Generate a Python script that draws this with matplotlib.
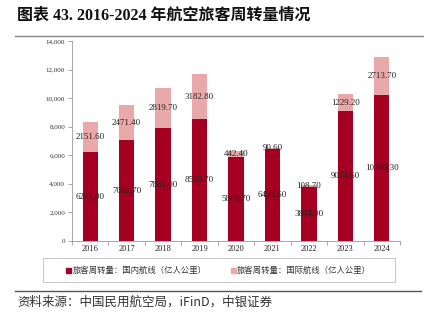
import matplotlib
matplotlib.use("Agg")
import matplotlib.pyplot as plt
from matplotlib.lines import Line2D
from matplotlib.patches import Rectangle
import numpy as np

years = ["2016", "2017", "2018", "2019", "2020", "2021", "2022", "2023", "2024"]
domestic = [6207.90, 7052.70, 7881.00, 8520.70, 5868.70, 6438.50, 3804.90, 9074.60, 10200.30]
international = [2151.60, 2471.40, 2819.70, 3182.80, 442.40, 90.60, 108.70, 1229.20, 2713.70]
yticks = [0, 2000, 4000, 6000, 8000, 10000, 12000, 14000]
legend_labels = ["旅客周转量：国内航线（亿人公里）", "旅客周转量：国际航线（亿人公里）"]
title = "图表 43. 2016-2024 年航空旅客周转量情况"
source = "资料来源：中国民用航空局，iFinD，中银证券"

DARK = "#A50021"
LIGHT = "#E9A9AB"
SERIF = ["Liberation Serif", "Noto Sans CJK SC", "DejaVu Sans"]
CJK = ["Noto Sans CJK SC", "Liberation Serif", "DejaVu Sans"]

fig = plt.figure(figsize=(4.24, 3.21), dpi=100)
ax = fig.add_axes([72 / 424, 1 - 241 / 321, 328 / 424, 200 / 321])

x = np.arange(len(years))
w = 0.42
ax.bar(x, domestic, width=w, color=DARK, zorder=2)
ax.bar(x, international, width=w, bottom=domestic, color=LIGHT, zorder=2)

for xi, d, i in zip(x, domestic, international):
    ax.text(xi, d / 2, f"{d:.2f}", ha="center", va="center",
            fontsize=6.5, family=SERIF, color="#222222", zorder=3)
    ax.text(xi, d + i / 2, f"{i:.2f}", ha="center", va="center",
            fontsize=6.5, family=SERIF, color="#222222", zorder=3)

ax.set_xlim(-0.5, len(years) - 0.5)
ax.set_ylim(0, 14000)
ax.set_yticks(yticks)
ax.set_yticklabels([f"{v:,}" for v in yticks], family=SERIF, fontsize=5, color="#333333")
ax.set_xticks(x)
ax.set_xticklabels(years, family=SERIF, fontsize=6, color="#222222")
ax.set_xticks(np.arange(len(years) + 1) - 0.5, minor=True)
ax.tick_params(axis="x", which="major", length=0, pad=3)
ax.tick_params(axis="x", which="minor", length=3, color="#999999", width=0.6)
ax.tick_params(axis="y", length=3, color="#999999", width=0.6, pad=2)
for s in ["top", "right"]:
    ax.spines[s].set_visible(False)
for s in ["left", "bottom"]:
    ax.spines[s].set_color("#999999")
    ax.spines[s].set_linewidth(0.6)

# legend box
fig.patches.append(Rectangle((43 / 424, 1 - 282 / 321), 352 / 424, 24 / 321,
                             transform=fig.transFigure, fill=False,
                             edgecolor="#BBBBBB", linewidth=0.6))
for xm, col, lab in [(69, DARK, legend_labels[0]), (233, LIGHT, legend_labels[1])]:
    fig.patches.append(Rectangle((xm / 424 - 2.5 / 424, 1 - 272.5 / 321), 5 / 424, 5 / 321,
                                 transform=fig.transFigure, color=col))
    fig.text((xm + 4) / 424, 1 - 270 / 321, lab, fontsize=6, family=CJK,
             color="#333333", va="center", ha="left")

# title and rules
fig.text(17 / 424, 1 - 16 / 321, title, fontsize=11.5, fontweight="bold",
         family=SERIF, va="center", ha="left", color="#111111")
fig.add_artist(Line2D([15 / 424, 1.0], [1 - 36 / 321] * 2, color="#888888", linewidth=1.0))
fig.add_artist(Line2D([15 / 424, 421 / 424], [1 - 291 / 321] * 2, color="#555555", linewidth=1.0))
fig.text(17 / 424, 1 - 302 / 321, source, fontsize=9, style="italic",
         family=CJK, va="center", ha="left", color="#333333")

fig.savefig("out.png", dpi=100)
